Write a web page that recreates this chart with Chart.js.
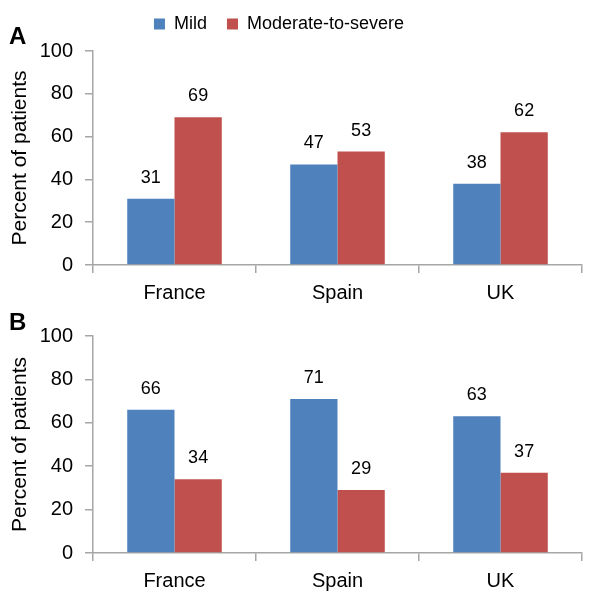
<!DOCTYPE html>
<html>
<head>
<meta charset="utf-8">
<script src="https://cdn.jsdelivr.net/npm/chart.js@4"></script>
<style>
    body { margin: 0; background: #fff; }
    #wrap { position: relative; width: 610px; height: 592px; font-family: "Liberation Sans", Arial, sans-serif; }
    .panel { position: absolute; left: 0; width: 610px; }
    #boxA { top: 0; height: 310px; }
    #boxB { top: 300px; height: 292px; }
    .tag { position: absolute; left: 9px; font-weight: bold; font-size: 24px; line-height: 1; }
</style>
</head>
<body>
<div id="wrap">
    <div class="panel" id="boxA"><canvas id="chartA"></canvas></div>
    <div class="panel" id="boxB"><canvas id="chartB"></canvas></div>
    <div class="tag" style="top: 24px;">A</div>
    <div class="tag" style="top: 310px;">B</div>
</div>
<script>
// data
const countries = ["France", "Spain", "UK"];
const seriesNames = ["Mild", "Moderate-to-severe"];
const mildA = [31, 47, 38];
const severeA = [69, 53, 62];
const mildB = [66, 71, 63];
const severeB = [34, 29, 37];
const yTicks = [0, 20, 40, 60, 80, 100];

const FONT = '"Liberation Sans", Arial, sans-serif';
const AXIS = '#a6a6a6';

// numbers above each bar
const valueLabels = {
    id: 'valueLabels',
    afterDatasetsDraw(chart) {
        const {ctx} = chart;
        ctx.save();
        ctx.font = '18px ' + FONT;
        ctx.fillStyle = '#000';
        ctx.textAlign = 'center';
        ctx.textBaseline = 'middle';
        chart.data.datasets.forEach((ds, i) => {
            chart.getDatasetMeta(i).data.forEach((bar, j) => {
                ctx.fillText(ds.data[j], bar.x, bar.y - 21);
            });
        });
        ctx.restore();
    }
};

// the legend in the figure sits a bit left of centre and close to the top
const nudgeLegend = {
    id: 'nudgeLegend',
    afterLayout(chart) {
        const lg = chart.legend;
        if (!lg || !lg.options.display) return;
        lg.left -= 12; lg.right -= 12;
        lg.top -= 8; lg.bottom -= 8;
    }
};

function makeChart(id, mild, severe, showLegend, pad, xHeight) {
    return new Chart(document.getElementById(id), {
        type: 'bar',
        data: {
            labels: countries,
            datasets: [
                { label: seriesNames[0], data: mild, backgroundColor: '#4f81bd' },
                { label: seriesNames[1], data: severe, backgroundColor: '#c0504d' },
            ],
        },
        plugins: [valueLabels, nudgeLegend],
        options: {
            responsive: true,
            maintainAspectRatio: false,
            animation: false,
            datasets: { bar: { categoryPercentage: 0.58, barPercentage: 1.0 } },
            layout: { padding: pad },
            plugins: {
                tooltip: { enabled: false },
                legend: {
                    display: showLegend,
                    labels: {
                        boxWidth: 11, boxHeight: 11, padding: 20,
                        color: '#000',
                        font: { family: FONT, size: 18 },
                    },
                },
            },
            scales: {
                x: {
                    border: { color: AXIS, width: 1.5 },
                    grid: { drawOnChartArea: false, color: AXIS, tickLength: 8, lineWidth: 1.5 },
                    ticks: { color: '#000', padding: 8, font: { family: FONT, size: 20 } },
                    afterFit: (s) => { s.height = xHeight; },
                },
                y: {
                    min: 0, max: 100,
                    afterBuildTicks: (s) => { s.ticks = yTicks.map(v => ({ value: v })); },
                    border: { color: AXIS, width: 1.5 },
                    grid: { drawOnChartArea: false, color: AXIS, tickLength: 8, lineWidth: 1.5 },
                    ticks: { color: '#000', padding: 12, font: { family: FONT, size: 20 } },
                    title: {
                        display: true, text: 'Percent of patients', color: '#000',
                        font: { family: FONT, size: 21 }, padding: { top: 8, bottom: 0 },
                    },
                    afterFit: (s) => { s.width = 93; },
                },
            },
        },
    });
}

makeChart('chartA', mildA, severeA, true, { left: 0, right: 28, top: 3, bottom: 0 }, 45);
makeChart('chartB', mildB, severeB, false, { left: 0, right: 28, top: 36, bottom: 0 }, 39);
</script>
</body>
</html>
